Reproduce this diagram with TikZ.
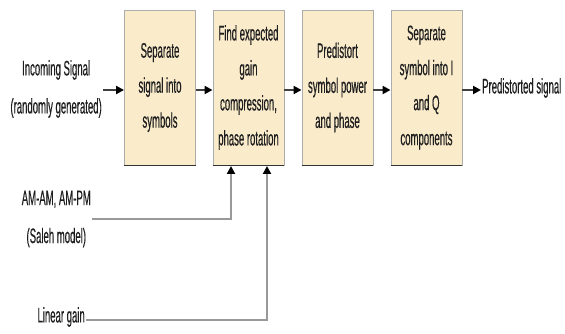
\documentclass[tikz,border=0pt]{standalone}
\usepackage{fontspec}
\setmainfont[FakeStretch=0.455,FakeBold=0.4]{Liberation Sans}
\usetikzlibrary{arrows.meta}
\definecolor{boxfill}{HTML}{FAEBCB}
\definecolor{txt}{HTML}{1E1E1E}
\tikzset{
  blk/.style={draw=gray!65, line width=0.9pt, fill=boxfill, minimum width=71pt, minimum height=155pt, inner sep=0pt, align=center, text=txt, font=\fontsize{21}{35}\selectfont},
  lbl/.style={align=center, text=txt, inner sep=1pt, font=\fontsize{21}{38}\selectfont},
  flow/.style={draw=txt!85, line width=2pt, -{Triangle[length=8pt,width=8pt,black]}},
  feed/.style={draw=gray!80, line width=2pt, -{Triangle[length=8pt,width=8pt,black]}}
}
\begin{document}
\begin{tikzpicture}[x=1pt,y=-1pt]
\useasboundingbox (0,0) rectangle (565,334);
\node[blk] (b1) at (160,87.5) {Separate\\signal into\\symbols};
\node[blk] (b2) at (248.5,87.5) {Find expected\\gain\\compression,\\phase rotation};
\node[blk] (b3) at (337.5,87.5) {Predistort\\symbol power\\and phase};
\node[blk] (b4) at (426.5,87.5) {Separate\\symbol into I\\and Q\\components};
\foreach \b in {b1,b2,b3,b4}{
  \draw[line width=1.5pt, black!80] (\b.south west) -- (\b.south east);
}
\node[lbl, anchor=east] (in) at (103,89) {Incoming Signal\\(randomly generated)};
\node[lbl, anchor=west] (out) at (481,88) {Predistorted signal};
\node[lbl, anchor=east] (am) at (92,219) {AM-AM, AM-PM\\(Saleh model)};
\node[lbl, anchor=east] (lg) at (86,317) {Linear gain};
\coordinate (c1) at (231,166);
\coordinate (c2) at (267,166);
\draw[flow] (in.east) ++(0,1) -- (b1.west |- 0,90);
\draw[flow] (b1.east) ++(0,2.5) -- (b2.west |- 0,90);
\draw[flow] (b2.east) ++(0,2.5) -- (b3.west |- 0,90);
\draw[flow] (b3.east) ++(0,2.5) -- (b4.west |- 0,90);
\draw[flow] (b4.east) ++(0,2.5) -- (out.west |- 0,90);
\draw[feed] (am.east) -- (c1 |- am.east) -- (c1);
\draw[feed] (lg.east) ++(0,3) -- (c2 |- 0,320) -- (c2);
\end{tikzpicture}
\end{document}
